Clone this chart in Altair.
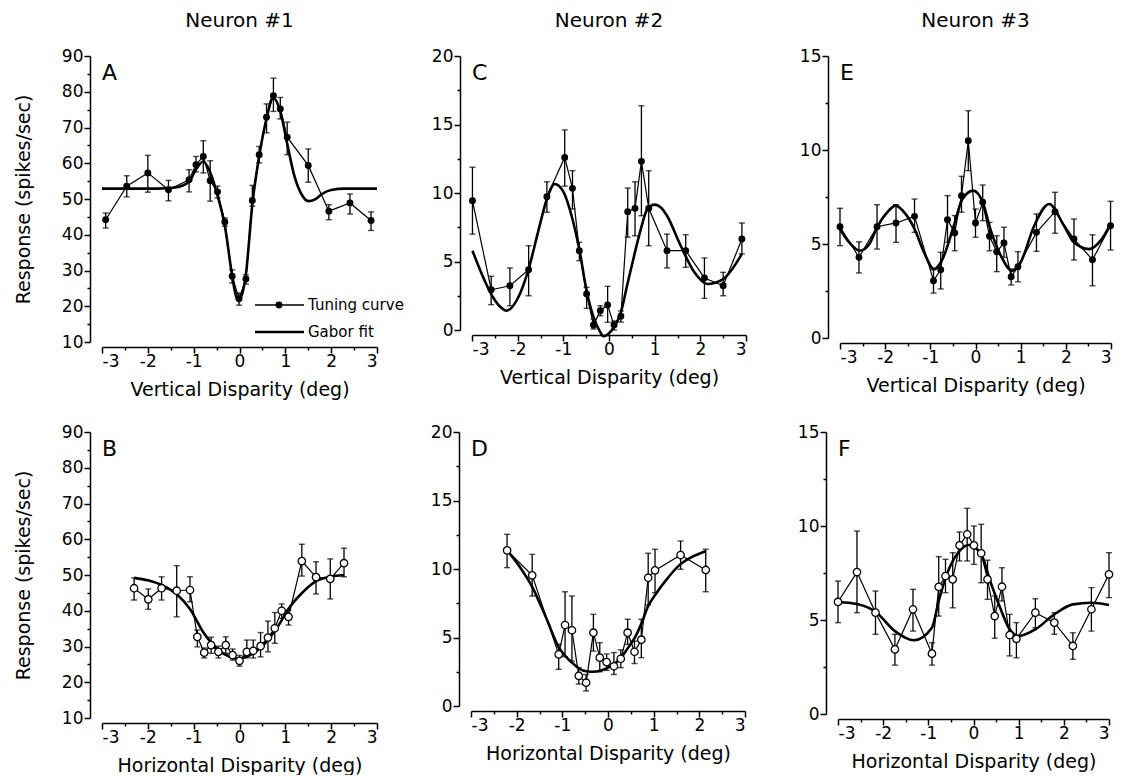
import altair as alt
import pandas as pd

FONT = "DejaVu Sans"

# ---------------- Neuron #1, vertical disparity (A)
a_x = [-2.92, -2.46, -2.00, -1.55, -1.10, -0.95, -0.79, -0.64, -0.48, -0.32, -0.16, -0.01,
       0.14, 0.28, 0.43, 0.59, 0.74, 0.89, 1.04, 1.50, 1.95, 2.41, 2.87]
a_y = [44.2, 53.6, 57.3, 52.6, 55.4, 59.6, 61.9, 55.1, 52.0, 43.6, 28.4, 22.1,
       27.6, 49.6, 62.4, 72.9, 78.9, 75.2, 67.3, 59.4, 46.6, 48.9, 44.0]
a_lo = [41.9, 50.6, 51.9, 49.5, 52.0, 57.6, 57.3, 49.4, 50.3, 42.4, 26.5, 20.3,
        26.2, 48.0, 60.1, 68.5, 74.5, 72.4, 62.4, 54.7, 44.2, 45.8, 41.2]
a_hi = [46.1, 56.5, 62.2, 55.2, 58.2, 61.9, 66.3, 60.7, 53.6, 44.7, 30.2, 23.7,
        28.8, 53.8, 64.7, 76.6, 83.8, 78.4, 71.5, 64.0, 48.4, 51.4, 46.4]
a_fit_x = [-3.0, -1.8, -1.4, -1.1, -0.95, -0.79, -0.64, -0.48, -0.32, -0.16, -0.08, -0.03,
           0.03, 0.08, 0.14, 0.28, 0.43, 0.59, 0.73, 0.89, 1.04, 1.2, 1.35, 1.5, 1.65,
           1.8, 2.0, 2.3, 3.0]
a_fit_y = [52.9, 52.9, 53.2, 54.8, 58.3, 60.5, 57.5, 51.0, 42.5, 28.5, 23.0, 21.8,
           22.5, 24.5, 29.0, 48.5, 62.0, 72.5, 78.4, 74.5, 65.5, 56.3, 51.4, 49.4, 49.9,
           51.4, 52.5, 52.9, 52.9]

# ---------------- Neuron #1, horizontal disparity (B)
b_x = [-2.30, -1.99, -1.70, -1.37, -1.08, -0.92, -0.77, -0.62, -0.46, -0.30, -0.15, 0.0,
       0.16, 0.30, 0.46, 0.62, 0.77, 0.92, 1.07, 1.36, 1.67, 1.98, 2.28]
b_y = [46.3, 43.2, 46.3, 45.6, 45.8, 32.7, 28.3, 30.4, 28.5, 30.4, 27.6, 26.0,
       28.5, 28.8, 30.1, 32.5, 35.1, 40.0, 38.3, 53.9, 49.4, 48.9, 53.3]
b_lo = [43.0, 40.4, 43.0, 38.3, 42.5, 29.9, 26.8, 28.1, 26.8, 28.1, 26.2, 24.5,
        26.8, 26.8, 27.1, 28.5, 30.9, 37.9, 36.0, 49.7, 44.7, 43.3, 49.5]
b_hi = [49.2, 46.1, 49.5, 52.6, 49.5, 34.6, 29.6, 32.6, 30.1, 32.7, 29.3, 27.5,
        31.8, 31.8, 33.9, 37.1, 39.5, 41.9, 40.2, 58.6, 53.7, 54.5, 57.5]
b_fit_x = [-2.3, -2.0, -1.7, -1.37, -1.08, -0.79, -0.5, -0.21, -0.03, 0.23, 0.52, 0.81,
           1.1, 1.39, 1.69, 1.98, 2.28]
b_fit_y = [49.2, 48.5, 47.2, 44.6, 40.5, 34.0, 29.5, 27.1, 26.6, 27.6, 30.4, 35.1,
           41.1, 45.3, 48.4, 49.5, 50.0]

# ---------------- Neuron #2, vertical disparity (C)
c_x = [-2.99, -2.58, -2.17, -1.76, -1.36, -0.97, -0.80, -0.65, -0.49, -0.34, -0.19, -0.03,
       0.11, 0.26, 0.41, 0.57, 0.71, 0.87, 1.27, 1.68, 2.09, 2.50, 2.91]
c_y = [9.44, 2.94, 3.23, 4.40, 9.73, 12.6, 10.34, 5.79, 2.63, 0.36, 1.41, 1.82,
       0.36, 1.0, 8.64, 8.88, 12.31, 8.88, 5.79, 5.79, 3.8, 3.23, 6.64]
c_lo = [7.0, 1.85, 1.77, 2.5, 8.59, 10.5, 8.83, 5.06, 1.58, 0.07, 1.04, 0.56,
        0.0, 0.58, 6.77, 6.88, 8.34, 6.15, 4.53, 4.58, 2.31, 2.5, 5.55]
c_hi = [11.88, 3.92, 4.53, 6.15, 10.82, 14.6, 11.63, 6.4, 3.12, 0.8, 1.77, 3.19,
        0.66, 1.39, 10.36, 10.82, 16.37, 11.63, 7.0, 6.96, 5.26, 4.21, 7.81]
c_fit_x = [-2.99, -2.8, -2.6, -2.4, -2.24, -2.0, -1.76, -1.55, -1.36, -1.19, -1.0, -0.8,
           -0.65, -0.49, -0.34, -0.2, -0.12, -0.02, 0.11, 0.26, 0.4, 0.55, 0.7, 0.84,
           1.0, 1.15, 1.27, 1.57, 1.87, 2.15, 2.5, 2.91]
c_fit_y = [5.79, 4.2, 2.75, 1.75, 1.41, 2.3, 4.45, 7.2, 9.56, 10.66, 10.1, 8.1,
           5.9, 2.85, 0.95, -0.1, -0.46, -0.3, 0.22, 1.29, 3.3, 5.42, 7.4, 8.83,
           9.15, 8.9, 8.34, 6.15, 4.21, 3.36, 3.72, 5.55]

# ---------------- Neuron #2, horizontal disparity (D)
d_x = [-2.21, -1.66, -1.08, -0.94, -0.79, -0.64, -0.48, -0.32, -0.18, -0.03, 0.13, 0.28,
       0.43, 0.58, 0.73, 0.88, 1.03, 1.59, 2.14]
d_y = [11.36, 9.54, 3.77, 5.91, 5.53, 2.2, 1.7, 5.35, 3.53, 3.2, 2.9, 3.45,
       5.35, 3.96, 4.84, 9.36, 9.9, 11.02, 9.93]
d_lo = [10.1, 8.03, 2.68, 3.6, 3.28, 1.6, 1.1, 4.01, 2.5, 2.6, 2.3, 2.8,
        4.5, 3.1, 3.53, 7.37, 8.27, 9.98, 8.34]
d_hi = [12.53, 11.07, 4.5, 8.34, 8.03, 2.8, 2.3, 6.69, 4.62, 3.8, 3.9, 4.1,
        6.33, 4.74, 6.33, 11.15, 11.44, 12.04, 11.44]
d_fit_x = [-2.21, -1.9, -1.66, -1.35, -1.08, -0.8, -0.55, -0.35, -0.15, 0.05, 0.28, 0.45,
           0.59, 0.73, 0.88, 1.05, 1.25, 1.57, 1.85, 2.14]
d_fit_y = [11.36, 10.0, 8.7, 6.4, 4.3, 3.2, 2.6, 2.5, 2.6, 2.9, 3.5, 4.3,
           5.0, 6.0, 7.3, 8.2, 9.1, 10.3, 10.9, 11.3]

# ---------------- Neuron #3, vertical disparity (E)
e_x = [-3.0, -2.58, -2.18, -1.76, -1.35, -0.93, -0.77, -0.62, -0.46, -0.31, -0.16, 0.0,
       0.16, 0.31, 0.47, 0.63, 0.79, 0.94, 1.35, 1.76, 2.18, 2.59, 2.99]
e_y = [5.92, 4.29, 5.92, 6.12, 6.47, 3.05, 3.63, 6.29, 5.59, 7.57, 10.49, 6.12,
       7.22, 5.41, 4.59, 5.05, 3.26, 3.79, 5.62, 6.72, 5.27, 4.16, 5.97]
e_lo = [4.91, 3.46, 4.73, 5.09, 5.62, 2.39, 2.61, 5.09, 4.64, 6.69, 8.9, 5.36,
        6.24, 4.64, 3.53, 4.29, 2.82, 2.99, 4.61, 5.57, 4.15, 2.78, 4.68]
e_hi = [6.9, 5.12, 7.09, 7.09, 7.39, 3.63, 4.56, 7.57, 6.51, 8.6, 12.09, 6.86,
        8.14, 6.15, 5.44, 5.89, 3.67, 4.59, 6.6, 7.75, 6.33, 5.49, 7.27]
e_fit_x = [-3.0, -2.8, -2.56, -2.35, -2.18, -1.95, -1.77, -1.55, -1.35, -1.14, -0.92, -0.73,
           -0.48, -0.29, -0.05, 0.16, 0.34, 0.56, 0.81, 1.0, 1.3, 1.63, 1.96, 2.18,
           2.51, 2.77, 2.99]
e_fit_y = [5.8, 5.1, 4.64, 5.0, 5.89, 6.7, 7.04, 6.6, 5.8, 4.56, 3.67, 4.2,
           5.97, 7.39, 7.84, 7.22, 5.71, 4.38, 3.58, 4.03, 5.97, 7.13, 5.97, 5.09,
           4.73, 5.18, 6.06]

# ---------------- Neuron #3, horizontal disparity (F)
f_x = [-3.0, -2.58, -2.17, -1.74, -1.34, -0.92, -0.77, -0.62, -0.46, -0.31, -0.14, 0.01,
       0.17, 0.31, 0.47, 0.63, 0.80, 0.95, 1.37, 1.79, 2.2, 2.61, 3.0]
f_y = [5.96, 7.55, 5.39, 3.44, 5.57, 3.21, 6.76, 7.34, 7.16, 8.97, 9.56, 8.97,
       8.55, 7.16, 5.21, 6.77, 4.2, 4.0, 5.39, 4.86, 3.62, 5.57, 7.43]
f_lo = [4.86, 5.39, 4.24, 2.6, 4.41, 2.6, 5.21, 6.45, 5.65, 8.14, 8.14, 7.96,
        6.98, 6.1, 4.03, 6.01, 3.09, 2.99, 4.59, 4.24, 2.91, 4.41, 6.19]
f_hi = [7.07, 9.73, 6.54, 4.24, 6.63, 3.79, 8.37, 8.23, 8.58, 9.68, 10.94, 10.0,
        10.09, 8.18, 6.28, 7.78, 5.3, 4.86, 6.13, 5.39, 4.32, 6.72, 8.58]
f_fit_x = [-3.0, -2.58, -2.17, -1.74, -1.32, -0.92, -0.77, -0.59, -0.31, -0.11, 0.17, 0.37,
           0.59, 0.78, 1.0, 1.37, 1.79, 2.2, 2.61, 3.0]
f_fit_y = [5.96, 5.85, 5.44, 4.41, 3.92, 4.59, 6.01, 7.43, 8.67, 8.99, 8.5, 7.07,
           5.65, 4.59, 4.15, 4.5, 5.3, 5.83, 5.92, 5.8]

column_titles = ["Neuron #1", "Neuron #2", "Neuron #3"]
panel_letters = ["A", "B", "C", "D", "E", "F"]
x_titles = ["Vertical Disparity (deg)", "Horizontal Disparity (deg)"]
y_title = "Response (spikes/sec)"
legend_labels = ["Tuning curve", "Gabor fit"]


def step_test(step):
    return f"abs(datum.value / {step} - round(datum.value / {step})) < 0.001"


def tick_values(lo, hi, step):
    n = int(round((hi - lo) / step))
    return [round(lo + i * step, 4) for i in range(n + 1)]


def panel(px, py, plo, phi, fx, fy, hollow, ydom, ymajor, yminor, width, height,
          letter, xtitle, ytitle=None, title=None, legend=False):
    pts = pd.DataFrame({"x": px, "y": py, "lo": plo, "hi": phi})
    fit = pd.DataFrame({"x": fx, "y": fy})

    xaxis = alt.Axis(
        values=tick_values(-3, 3, 0.5),
        labelExpr=f"{step_test(1)} ? datum.value + '' : ''",
        tickSize={"condition": {"test": step_test(1), "value": 6}, "value": 3},
        offset=5, labelPadding=0, titlePadding=11,
    )
    yaxis = alt.Axis(
        values=tick_values(ydom[0], ydom[1], yminor),
        labelExpr=f"{step_test(ymajor)} ? datum.value + '' : ''",
        tickSize={"condition": {"test": step_test(ymajor), "value": 6}, "value": 3},
        offset=12, labelPadding=1, titlePadding=28,
    )
    xs = alt.Scale(domain=[-3, 3], nice=False, zero=False)
    ys = alt.Scale(domain=ydom, nice=False, zero=False)
    X = alt.X("x:Q", scale=xs, axis=xaxis, title=xtitle)

    def Y(field):
        return alt.Y(f"{field}:Q", scale=ys, axis=yaxis, title=ytitle)

    fit_line = alt.Chart(fit).mark_line(
        color="black", strokeWidth=2.6, interpolate="monotone"
    ).encode(x=X, y=Y("y"))
    tune_line = alt.Chart(pts).mark_line(color="black", strokeWidth=1.2).encode(x=X, y=Y("y"))
    err = alt.Chart(pts).mark_rule(color="black", strokeWidth=1.3).encode(
        x=X, y=Y("lo"), y2="hi:Q")
    cap_lo = alt.Chart(pts).mark_tick(
        orient="horizontal", size=6, thickness=1.4, color="black").encode(x=X, y=Y("lo"))
    cap_hi = alt.Chart(pts).mark_tick(
        orient="horizontal", size=6, thickness=1.4, color="black").encode(x=X, y=Y("hi"))
    if hollow:
        dots = alt.Chart(pts).mark_point(
            shape="circle", filled=True, fill="white", stroke="black",
            strokeWidth=1.3, size=55, opacity=1).encode(x=X, y=Y("y"))
    else:
        dots = alt.Chart(pts).mark_point(
            shape="circle", filled=True, color="black", size=48, opacity=1
        ).encode(x=X, y=Y("y"))
    lab = alt.Chart(pd.DataFrame({"t": [letter]})).mark_text(
        align="left", baseline="middle", fontSize=22, font=FONT, color="black"
    ).encode(text="t:N", x=alt.value(0), y=alt.value(17))

    layers = [fit_line, tune_line, err, cap_lo, cap_hi, dots, lab]
    if legend:
        ldf1 = pd.DataFrame({"t": [legend_labels[0]]})
        ldf2 = pd.DataFrame({"t": [legend_labels[1]]})
        layers += [
            alt.Chart(ldf1).mark_rule(color="black", strokeWidth=1.3).encode(
                x=alt.value(153), x2=alt.value(202), y=alt.value(249)),
            alt.Chart(ldf1).mark_point(shape="circle", filled=True, color="black",
                                        size=48, opacity=1).encode(
                x=alt.value(177), y=alt.value(249)),
            alt.Chart(ldf1).mark_text(align="left", baseline="middle", fontSize=15,
                                       font=FONT, color="black").encode(
                text="t:N", x=alt.value(206), y=alt.value(249)),
            alt.Chart(ldf2).mark_rule(color="black", strokeWidth=2.6).encode(
                x=alt.value(153), x2=alt.value(202), y=alt.value(276)),
            alt.Chart(ldf2).mark_text(align="left", baseline="middle", fontSize=15,
                                       font=FONT, color="black").encode(
                text="t:N", x=alt.value(206), y=alt.value(276)),
        ]
    ch = alt.layer(*layers).properties(width=width, height=height)
    if title:
        ch = ch.properties(title=alt.Title(title))
    return ch


A = panel(a_x, a_y, a_lo, a_hi, a_fit_x, a_fit_y, False, [10, 90], 10, 5, 275, 286,
          panel_letters[0], x_titles[0], y_title, column_titles[0], legend=True)
B = panel(b_x, b_y, b_lo, b_hi, b_fit_x, b_fit_y, True, [10, 90], 10, 5, 275, 286,
          panel_letters[1], x_titles[1], y_title)
C = panel(c_x, c_y, c_lo, c_hi, c_fit_x, c_fit_y, False, [0, 20], 5, 2.5, 274, 274,
          panel_letters[2], x_titles[0], None, column_titles[1])
D = panel(d_x, d_y, d_lo, d_hi, d_fit_x, d_fit_y, True, [0, 20], 5, 2.5, 274, 274,
          panel_letters[3], x_titles[1])
E = panel(e_x, e_y, e_lo, e_hi, e_fit_x, e_fit_y, False, [0, 15], 5, 2.5, 271, 282,
          panel_letters[4], x_titles[0], None, column_titles[2])
F = panel(f_x, f_y, f_lo, f_hi, f_fit_x, f_fit_y, True, [0, 15], 5, 2.5, 271, 282,
          panel_letters[5], x_titles[1])

chart = alt.vconcat(
    alt.hconcat(alt.hconcat(A, C, spacing=27), E, spacing=51),
    alt.hconcat(alt.hconcat(B, D, spacing=52), F, spacing=51),
    spacing=24,
).properties(
    padding={"left": 6, "top": 3, "right": 0, "bottom": 0}
).configure_view(stroke=None).configure_axis(
    grid=False, domainColor="black", domainWidth=1.5, tickColor="black", tickWidth=1.5,
    labelColor="black", labelFont=FONT, labelFontSize=17,
    titleColor="black", titleFont=FONT, titleFontSize=19, titleFontWeight="normal",
).configure_title(
    font=FONT, fontSize=20, fontWeight="normal", color="black", anchor="middle", offset=16
)

chart.save("out.html", embed_options={"renderer": "svg", "actions": False})
